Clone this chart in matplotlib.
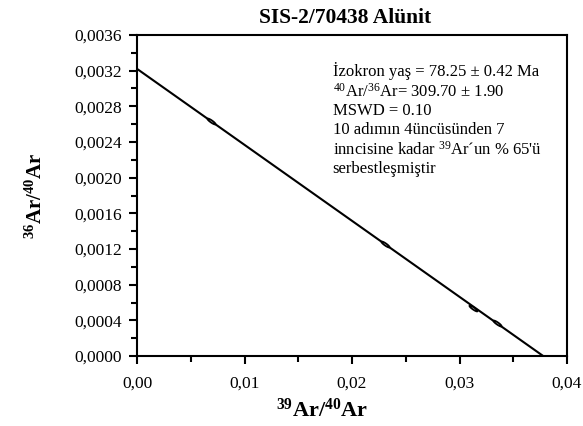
import numpy as np
import matplotlib
matplotlib.use('Agg')
import matplotlib.pyplot as plt
from matplotlib.path import Path
from matplotlib.transforms import Affine2D
from matplotlib.ticker import MultipleLocator, FuncFormatter

plt.rcParams['font.family'] = ['Liberation Serif', 'DejaVu Serif']
plt.rcParams['mathtext.fontset'] = 'custom'
plt.rcParams['mathtext.rm'] = 'Liberation Serif'
plt.rcParams['mathtext.it'] = 'Liberation Serif:italic'
plt.rcParams['mathtext.bf'] = 'Liberation Serif:bold'

### Messpunkte (39Ar/40Ar, 36Ar/40Ar) ###
ar39_ar40 = np.array([0.00688, 0.0231, 0.0313, 0.0335])
ar36_ar40 = np.array([0.00263, 0.00126, 0.00054, 0.00037])

### Isochrone ###
y_achse = 0.00322   # Schnittpunkt mit y-Achse
x_achse = 0.0378    # Schnittpunkt mit x-Achse

def linReg(x, m, b):
    return m * x + b

steigung = -y_achse / x_achse

# kleine Fehlerellipsen entlang der Geraden
ellipse = Path.unit_circle().transformed(Affine2D().scale(1, 0.22).rotate_deg(-35))

fig = plt.figure(figsize=(5.83, 4.26), dpi=100)
ax = fig.add_axes([0.235, 0.164, 0.7376, 0.754])

x = np.linspace(0, x_achse, 100)
ax.plot(x, linReg(x, steigung, y_achse), 'k-', lw=1.5)
ax.plot(ar39_ar40, ar36_ar40, ls='none', marker=ellipse, ms=6, mfc='white', mec='black', mew=1.3)

ax.set_xlim(0, 0.04)
ax.set_ylim(0, 0.0036)
ax.xaxis.set_major_locator(MultipleLocator(0.01))
ax.xaxis.set_minor_locator(MultipleLocator(0.005))
ax.yaxis.set_major_locator(MultipleLocator(0.0004))
ax.yaxis.set_minor_locator(MultipleLocator(0.0002))
ax.xaxis.set_major_formatter(FuncFormatter(lambda v, p: f'{v:.2f}'.replace('.', ',')))
ax.yaxis.set_major_formatter(FuncFormatter(lambda v, p: f'{v:.4f}'.replace('.', ',')))
ax.tick_params(which='both', direction='out', width=1.5, labelsize=12.5)
ax.tick_params(which='major', length=6)
ax.tick_params(axis='x', which='major', pad=8)
ax.tick_params(axis='y', which='major', pad=5)
ax.tick_params(which='minor', length=4)
for s in ax.spines.values():
    s.set_linewidth(1.5)

fig.text(0.592, 0.958, 'SIS-2/70438 Alünit', fontsize=15.5, fontweight='bold', ha='center', va='center')
fig.text(0.552, 0.038, r'$^{\mathbf{39}}$Ar/$^{\mathbf{40}}$Ar', fontsize=16, fontweight='bold', ha='center', va='center')
fig.text(0.062, 0.54, r'$^{\mathbf{36}}$Ar/$^{\mathbf{40}}$Ar', fontsize=15, fontweight='bold', ha='center', va='center', rotation=90)

metin = ('İzokron yaş = 78.25 ± 0.42 Ma\n'
         r'$^{40}$Ar/$^{36}$Ar= 309.70 ± 1.90' + '\n'
         'MSWD = 0.10\n'
         '10 adımın 4üncüsünden 7\n'
         r"inncisine kadar $^{39}$Ar´un % 65'ü" + '\n'
         'serbestleşmiştir')
ax.text(0.455, 0.915, metin, transform=ax.transAxes, fontsize=12, va='top', ha='left', linespacing=1.2)

plt.savefig('out.png', dpi=100)
